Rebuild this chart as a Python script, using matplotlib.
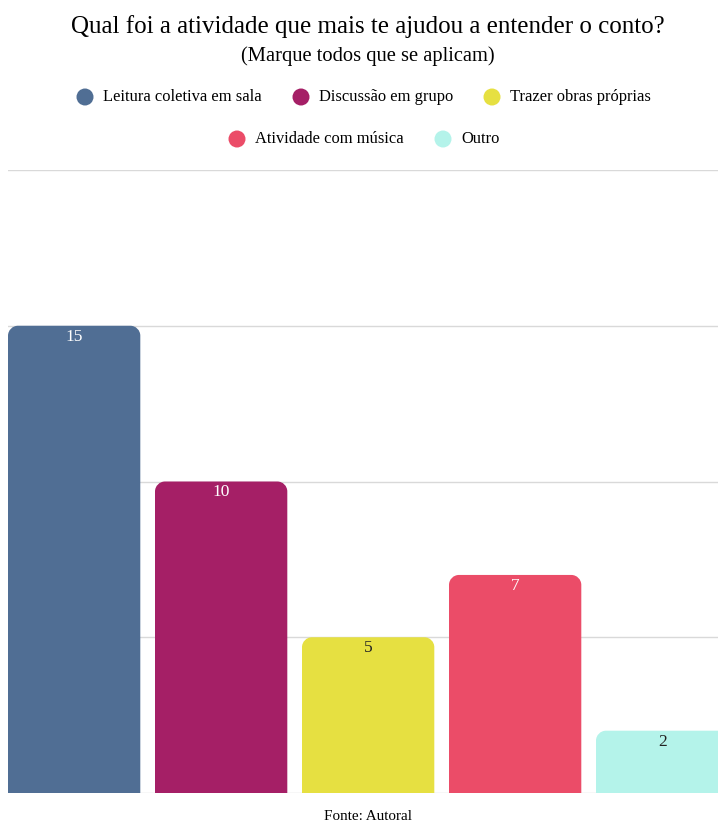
import matplotlib.pyplot as plt
from matplotlib.patches import PathPatch, Ellipse
from matplotlib.path import Path

categorias = ['Leitura coletiva em sala', 'Discussão em grupo', 'Trazer obras próprias',
              'Atividade com música', 'Outro']
valores = [15, 10, 5, 7, 2]
cores = ['#506e94', '#a51f66', '#e6e041', '#eb4c68', '#b4f3ea']
cor_rotulo = ['white', 'white', '#222222', 'white', '#222222']

titulo = 'Qual foi a atividade que mais te ajudou a entender o conto?'
subtitulo = '(Marque todos que se aplicam)'
fonte = 'Fonte: Autoral'

plt.rcParams['font.family'] = ['Liberation Serif', 'DejaVu Serif']

W, H = 718, 823
fig = plt.figure(figsize=(W / 100, H / 100), dpi=100)

# plot area in pixels
x0, x1 = 8, 718
y_top, y_bot = 170, 793
ax = fig.add_axes([x0 / W, (H - y_bot) / H, (x1 - x0) / W, (y_bot - y_top) / H])

largura = 0.9
ax.set_xlim(-0.45, -0.45 + (x1 - x0) / 147)
ax.set_ylim(0, 20)

for g in [0, 5, 10, 15, 20]:
    ax.axhline(g, color='#d9d9d9', lw=1, zorder=0)

px_x = 1 / 147
px_y = 20 / (y_bot - y_top)


def barra_arredondada(esq, larg, alt, rx, ry):
    # bar with only the top corners rounded
    k = 0.5523
    verts = [(esq, 0), (esq, alt - ry),
             (esq, alt - ry + k * ry), (esq + rx - k * rx, alt), (esq + rx, alt),
             (esq + larg - rx, alt),
             (esq + larg - rx + k * rx, alt), (esq + larg, alt - ry + k * ry), (esq + larg, alt - ry),
             (esq + larg, 0), (esq, 0)]
    codes = [Path.MOVETO, Path.LINETO,
             Path.CURVE4, Path.CURVE4, Path.CURVE4,
             Path.LINETO,
             Path.CURVE4, Path.CURVE4, Path.CURVE4,
             Path.LINETO, Path.CLOSEPOLY]
    return Path(verts, codes)


for i, (v, c) in enumerate(zip(valores, cores)):
    esq = i - largura / 2
    caminho = barra_arredondada(esq, largura, v, 10 * px_x, 10 * px_y)
    ax.add_patch(PathPatch(caminho, fc=c, ec='none', zorder=2))
    ax.text(i, v - 11 * px_y, str(v), ha='center', va='center',
            fontsize=12.5, color=cor_rotulo[i], zorder=3)

ax.axis('off')

fig.text(368 / W, 1 - 27 / H, titulo, ha='center', va='center', fontsize=18)
fig.text(368 / W, 1 - 56 / H, subtitulo, ha='center', va='center', fontsize=14.8)

# legend drawn by hand: two centered rows
linhas = [([0, 1, 2], [85, 301, 492], 97), ([3, 4], [237, 443], 139)]
for idx, xs, yl in linhas:
    for k, xm in zip(idx, xs):
        fig.patches.append(Ellipse((xm / W, 1 - yl / H), 17 / W, 17 / H,
                                   transform=fig.transFigure, fc=cores[k], ec='none'))
        fig.text((xm + 18) / W, 1 - yl / H, categorias[k], ha='left', va='center',
                 fontsize=11.9)

fig.text(368 / W, 1 - 816 / H, fonte, ha='center', va='center', fontsize=10.9)

fig.savefig('out.png', dpi=100)
